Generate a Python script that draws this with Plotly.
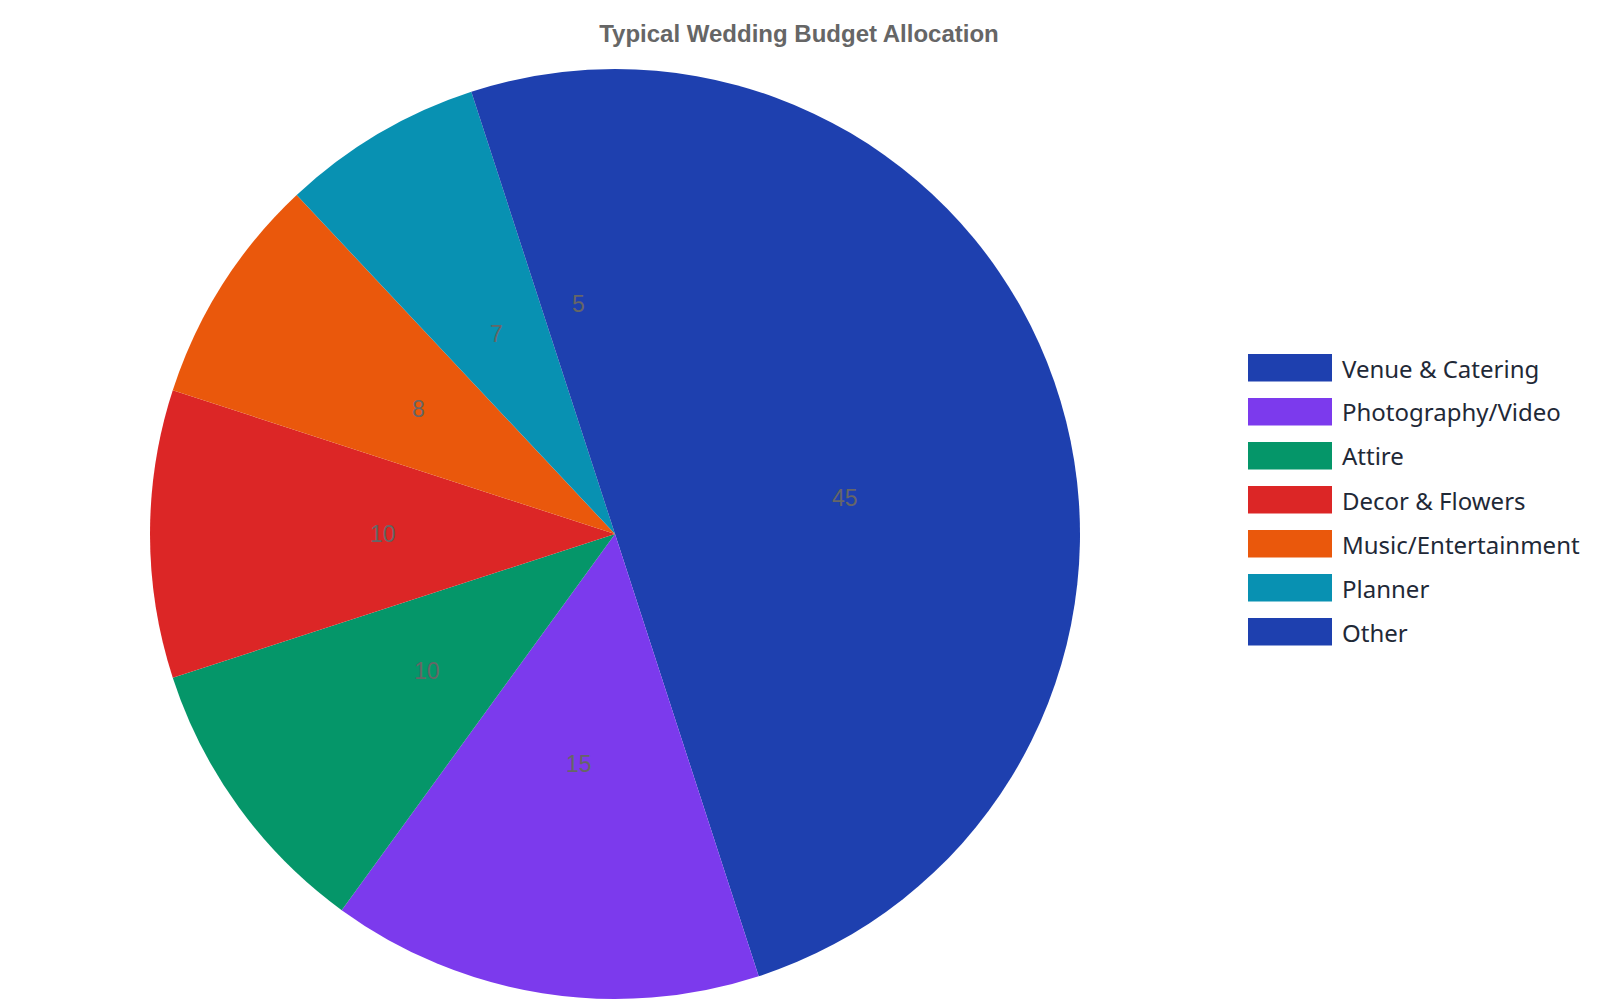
import math
import plotly.graph_objects as go

# budget shares in percent
categories = ["Venue & Catering", "Photography/Video", "Attire", "Decor & Flowers",
              "Music/Entertainment", "Planner", "Other"]
shares = [45, 15, 10, 10, 8, 7, 5]
palette = ["#1e40af", "#7c3aed", "#059669", "#dc2626", "#ea580c", "#0891b2"]

# colors cycle like the original, so "Other" wraps back to the first blue
slice_colors = [palette[i % len(palette)] for i in range(len(categories))]

W, H = 1600, 1000
# pie box in pixels (left, right, top, bottom)
px0, px1, py0, py1 = 150, 1080, 69, 999

fig = go.Figure()
fig.add_trace(go.Pie(
    labels=categories,
    values=shares,
    sort=False,
    direction="clockwise",
    rotation=0,
    marker=dict(colors=slice_colors, line=dict(width=0)),
    textinfo="none",
    domain=dict(x=[px0 / W, px1 / W], y=[1 - py1 / H, 1 - py0 / H]),
    showlegend=False,
    hoverinfo="label+value",
))

annotations = []

# value labels sit at half the radius, on the middle angle of each slice
cx, cy = (px0 + px1) / 2, (py0 + py1) / 2
rad = (px1 - px0) / 2
total = sum(shares)
cum = 0
for v in shares:
    ang = math.radians((cum + v / 2) / total * 360)
    cum += v
    lx = cx + 0.5 * rad * math.sin(ang)
    ly = cy - 0.5 * rad * math.cos(ang)
    annotations.append(dict(xref="paper", yref="paper", x=lx / W, y=1 - ly / H,
                            xanchor="center", yanchor="middle", showarrow=False,
                            text=str(v),
                            font=dict(family="Liberation Sans, Arial, sans-serif",
                                      size=23, color="#666666")))

# hand-made legend with the wide color boxes of the original
shapes = []
for i, (name, col) in enumerate(zip(categories, slice_colors)):
    top = 354 + i * 44
    shapes.append(dict(type="rect", xref="paper", yref="paper",
                       x0=1248 / W, x1=1332 / W,
                       y0=1 - top / H, y1=1 - (top + 27.5) / H,
                       fillcolor=col, line=dict(width=0)))
    annotations.append(dict(xref="paper", yref="paper",
                            x=1340 / W, y=1 - (top + 14) / H,
                            xanchor="left", yanchor="middle",
                            text=name, showarrow=False,
                            font=dict(family="Noto Sans, Open Sans, sans-serif",
                                      size=24, color="#1f2937")))

fig.update_layout(
    width=W, height=H,
    margin=dict(l=0, r=0, t=0, b=0),
    paper_bgcolor="white",
    plot_bgcolor="white",
    title=dict(text="<b>Typical Wedding Budget Allocation</b>",
               x=799 / W, xanchor="center", y=1 - 34 / H, yanchor="middle",
               font=dict(family="Liberation Sans, Arial, sans-serif", size=24, color="#666666")),
    shapes=shapes,
    annotations=annotations,
)

fig.write_html("out.html", config={"displayModeBar": False},
               post_script="document.body.style.margin='0';document.body.style.overflow='hidden';")
